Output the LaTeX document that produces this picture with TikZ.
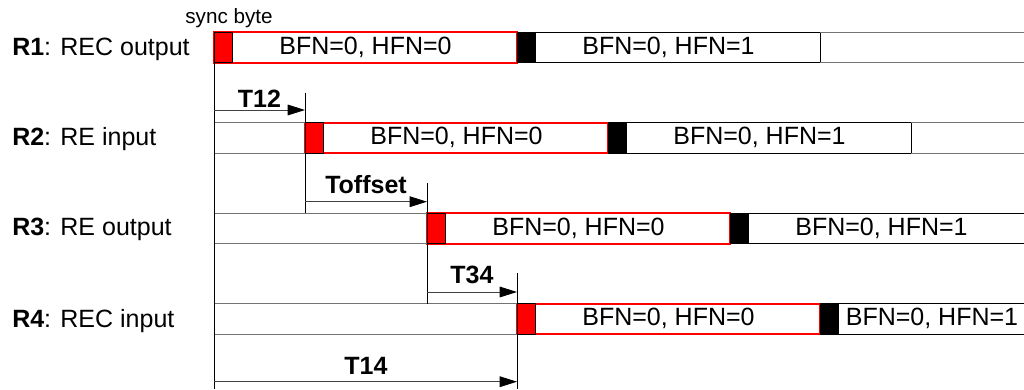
\documentclass[tikz,border=0pt]{standalone}
\usepackage{fontspec}
\setmainfont{Liberation Sans}
\usetikzlibrary{arrows.meta}
\begin{document}
\begin{tikzpicture}[x=0.75pt,y=-0.75pt,
  big/.style={font=\fontsize{18.75}{22}\selectfont},
  rowlabel/.style={font=\fontsize{18.75}{22}\selectfont, anchor=base west, inner sep=0},
  tlabel/.style={font=\bfseries\fontsize{18.75}{22}\selectfont, anchor=base, inner sep=0},
  small/.style={font=\fontsize{15.5}{18}\selectfont, anchor=base, inner sep=0},
  fbase/.style={minimum height=22.875pt, anchor=north west, inner sep=0, outer sep=0, font=\fontsize{18.75}{22}\selectfont},
  redframe/.style={fbase, draw=red, line width=1.5pt, minimum width=227.25pt},
  nextframe/.style={fbase, draw=black, line width=0.7pt, minimum width=227.25pt},
  syncred/.style={fbase, fill=red, draw=black, line width=0.7pt, minimum width=13.9pt},
  syncblack/.style={fbase, fill=black, draw=black, line width=0.5pt, minimum width=13.9pt},
  guide/.style={draw=black!55, line width=0.6pt},
  tick/.style={draw=black, line width=0.75pt},
  delay/.style={draw=black!75, line width=0.75pt, -{Triangle[length=13pt,width=8pt,black]}}
]
\useasboundingbox (0,0) rectangle (1024,389);
\begin{scope}
\clip (0,0) rectangle (1024,389);

% named coordinates
\coordinate (v1top) at (214,32);
\coordinate (v1bot) at (214,389);
\coordinate (v2top) at (305,92.7);
\coordinate (v3top) at (427,183);
\coordinate (v4top) at (517,273);
\coordinate (v4bot) at (517,389);
\coordinate (a12) at (214,110);
\coordinate (a23) at (305,201.7);
\coordinate (a34) at (427,292);
\coordinate (a14) at (214,381.7);
\coordinate (rend) at (1024,0);

% row labels
\node[rowlabel] (l1) at (12,55) {\textbf{R1}: REC output};
\node[rowlabel] (l2) at (12,145.7) {\textbf{R2}: RE input};
\node[rowlabel] (l3) at (12,235.7) {\textbf{R3}: RE output};
\node[rowlabel] (l4) at (12,327) {\textbf{R4}: REC input};
\node[small] (sb) at (229,23.3) {sync byte};

% R1
\node[nextframe] (f1b) at (517,32) {BFN=0, HFN=1};
\node[redframe] (f1a) at (214,32) {BFN=0, HFN=0};
\node[syncred] (s1a) at (214,32) {};
\node[syncblack] (s1b) at (517,32) {};
\draw[guide] (f1b.north east) -- (rend |- f1b.north east);
\draw[guide] (f1b.south east) -- (rend |- f1b.south east);

% R2
\node[nextframe] (f2b) at (608,122.5) {BFN=0, HFN=1};
\node[redframe] (f2a) at (305,122.5) {BFN=0, HFN=0};
\node[syncred] (s2a) at (305,122.5) {};
\node[syncblack] (s2b) at (608,122.5) {};
\draw[guide] (f2b.north east) -- (rend |- f2b.north east);
\draw[guide] (f2b.south east) -- (rend |- f2b.south east);
\draw[guide] (v1top |- f2a.north west) -- (f2a.north west);
\draw[guide] (v1top |- f2a.south west) -- (f2a.south west);

% R3
\node[nextframe] (f3b) at (730,213) {BFN=0, HFN=1};
\node[redframe] (f3a) at (427,213) {BFN=0, HFN=0};
\node[syncred] (s3a) at (427,213) {};
\node[syncblack] (s3b) at (730,213) {};
\draw[guide] (v1top |- f3a.north west) -- (f3a.north west);
\draw[guide] (v1top |- f3a.south west) -- (f3a.south west);

% R4
\node[nextframe, minimum width=168pt] (f4b) at (820,303.5) {BFN=0, HFN=1};
\node[redframe] (f4a) at (517,303.5) {BFN=0, HFN=0};
\node[syncred] (s4a) at (517,303.5) {};
\node[syncblack] (s4b) at (820,303.5) {};
\draw[guide] (v1top |- f4a.north west) -- (f4a.north west);
\draw[guide] (v1top |- f4a.south west) -- (f4a.south west);

% vertical reference lines
\draw[tick] (v1top) -- (v1bot);
\draw[tick] (v2top) -- (v2top |- f3a.north west);
\draw[tick] (v3top) -- (v3top |- f4a.north west);
\draw[tick] (v4top) -- (v4bot);

% delay arrows
\draw[delay] (a12) -- (a12 -| f2a.west);
\draw[delay] (a23) -- (a23 -| f3a.west);
\draw[delay] (a34) -- (a34 -| f4a.west);
\draw[delay] (a14) -- (a14 -| f4a.west);

\node[tlabel] (t12) at (259.5,107) {T12};
\node[tlabel] (toff) at (366,193.3) {Toffset};
\node[tlabel] (t34) at (472,283) {T34};
\node[tlabel] (t14) at (366,374) {T14};
\end{scope}
\end{tikzpicture}
\end{document}
